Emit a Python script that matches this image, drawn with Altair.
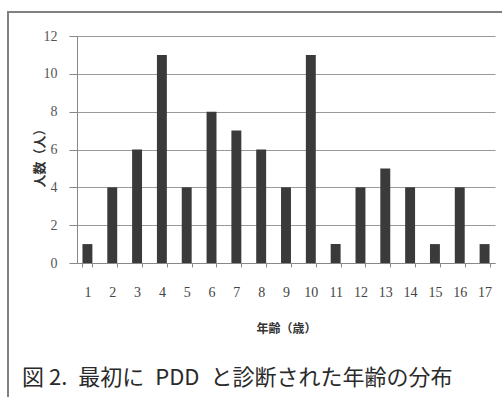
import altair as alt
import pandas as pd

# Age at first PDD diagnosis (years) and number of people
ages = [str(a) for a in range(1, 18)]
counts = [1, 4, 6, 11, 4, 8, 7, 6, 4, 11, 1, 4, 5, 4, 1, 4, 1]

x_title = "年齢（歳）"
y_title = "人数（人）"
caption = "図 2.\u2002最初に\u2002PDD\u2002と診断された年齢の分布"

df = pd.DataFrame({"age": ages, "count": counts})

W, H = 418, 227

bars = alt.Chart(df).mark_bar(color="#3a3a3a").encode(
    x=alt.X(
        "age:N",
        sort=ages,
        scale=alt.Scale(paddingInner=0.6, paddingOuter=0.22),
        axis=alt.Axis(
            title=x_title,
            labelAngle=0,
            tickBand="extent",
            tickSize=4,
            tickColor="#888888",
            domainColor="#888888",
            labelFont="Liberation Serif",
            labelFontSize=14,
            labelColor="#444444",
            labelPadding=18,
            titleFont="Noto Sans CJK JP",
            titleFontSize=12,
            titleFontWeight="bold",
            titleColor="#333333",
            titlePadding=24,
        ),
    ),
    y=alt.Y(
        "count:Q",
        scale=alt.Scale(domain=[0, 12]),
        axis=alt.Axis(
            title=y_title,
            values=[0, 2, 4, 6, 8, 10, 12],
            grid=True,
            gridColor="#9a9a9a",
            tickSize=8,
            tickColor="#888888",
            domainColor="#888888",
            labelFont="Liberation Serif",
            labelFontSize=14,
            labelColor="#555555",
            labelPadding=12,
            titleFont="Noto Sans CJK JP",
            titleFontSize=13,
            titleFontWeight="bold",
            titleColor="#333333",
            titleX=-38,
            titleY=H / 2 + 5,
            titleAlign="center",
            titleBaseline="middle",
        ),
    ),
)

cap_df = pd.DataFrame({"t": [caption]})
cap = alt.Chart(cap_df).mark_text(
    align="left", baseline="middle", font="Noto Sans CJK JP", fontSize=22, color="#2a2a2a"
).encode(x=alt.value(-55), y=alt.value(342), text="t:N")

frame = alt.Chart(cap_df).mark_rect(
    fill=None, stroke="#808080", strokeWidth=2
).encode(x=alt.value(-69), x2=alt.value(440), y=alt.value(-24), y2=alt.value(400))

chart = (
    alt.layer(frame, bars, cap)
    .properties(
        width=W,
        height=H,
        autosize=alt.AutoSizeParams(type="none"),
        padding={"left": 77, "top": 36, "right": 7, "bottom": 134},
        background="#ffffff",
    )
    .configure_view(stroke=None)
)

chart.save("out.html", embed_options={"renderer": "svg", "actions": False})
